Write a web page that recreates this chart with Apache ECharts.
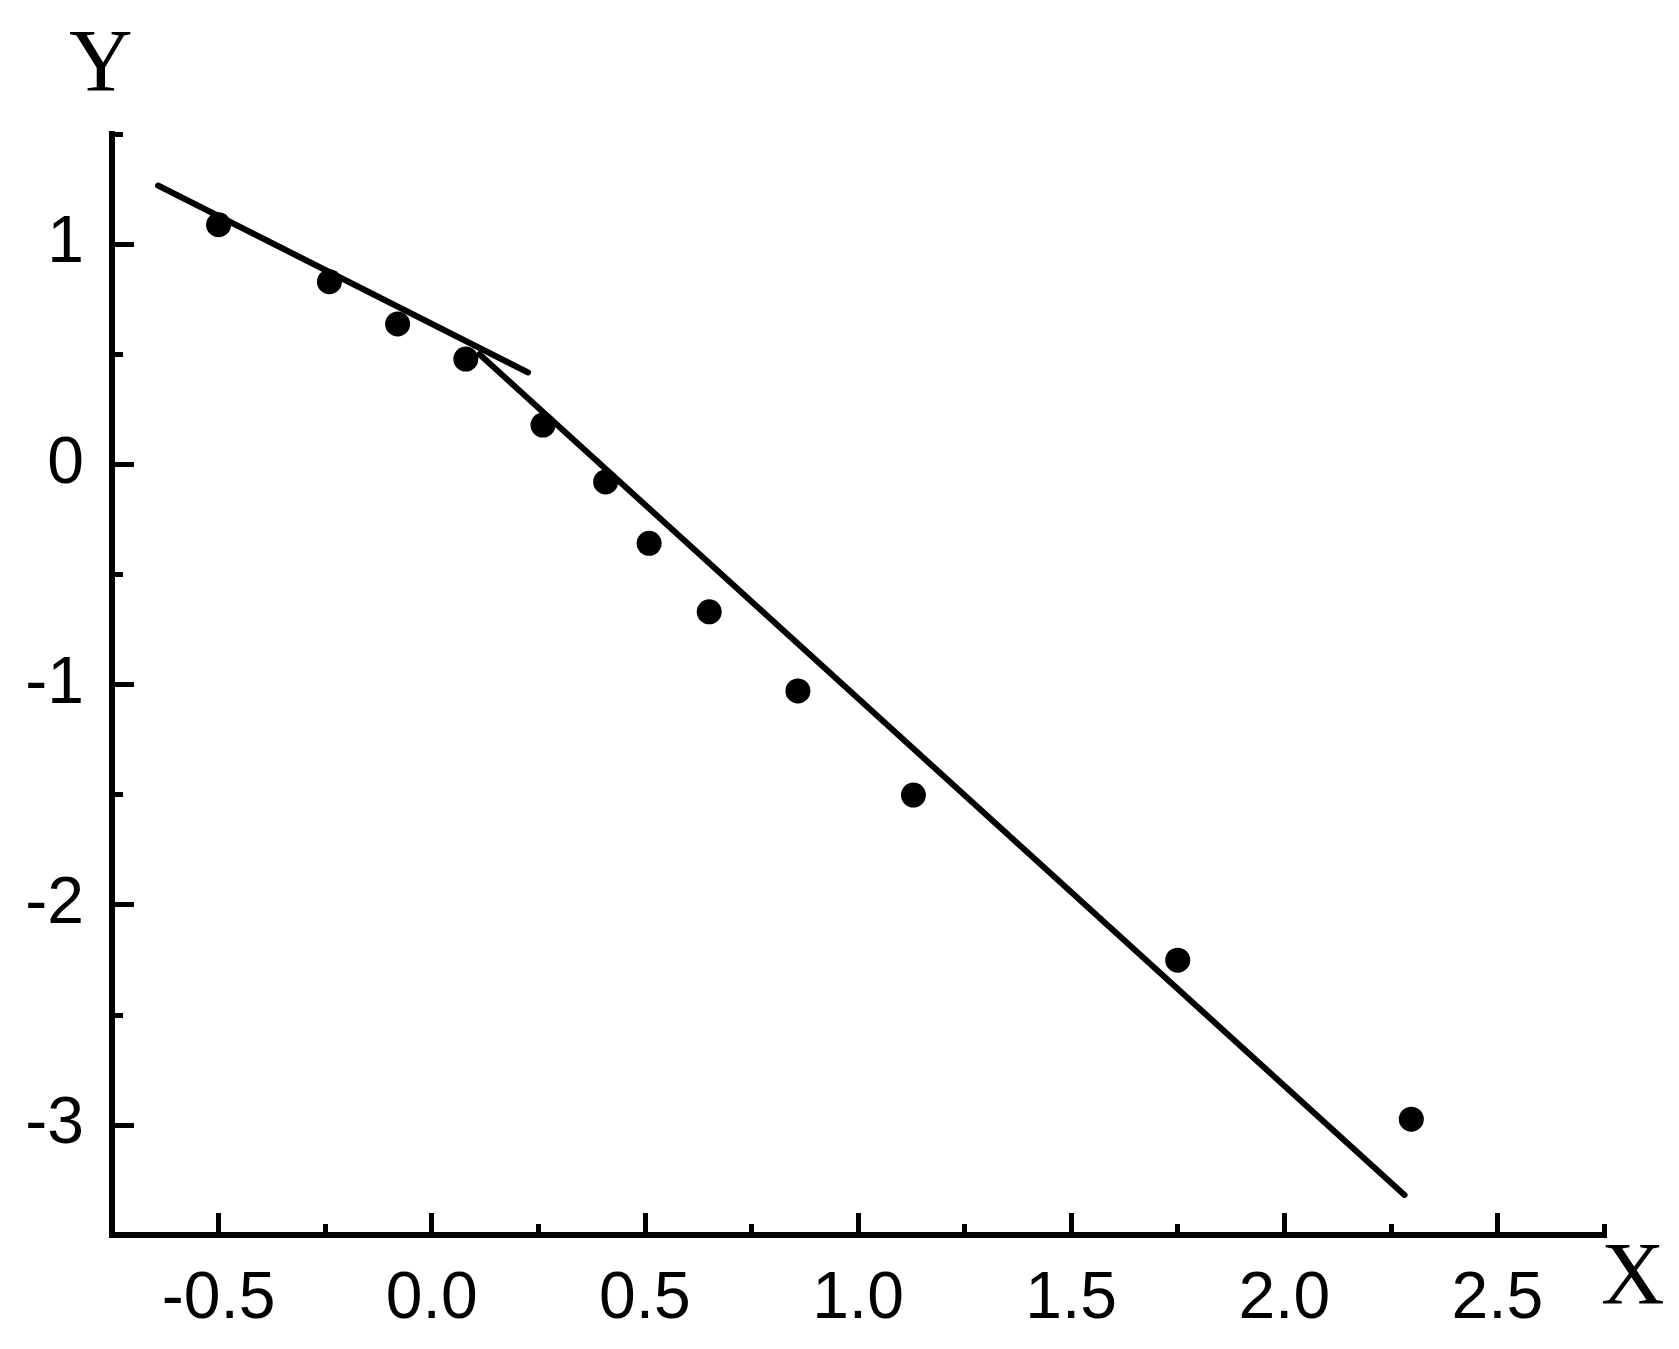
<!DOCTYPE html>
<html>
<head>
<meta charset="utf-8">
<script src="https://cdn.jsdelivr.net/npm/echarts@6/dist/echarts.min.js"></script>
<style>
html,body{margin:0;padding:0;background:#fff;}
#chart{width:1679px;height:1349px;}
</style>
</head>
<body>
<div id="chart"></div>
<script>
// Observed data points
var pointsX = [-0.50, -0.24, -0.08, 0.08, 0.261, 0.408, 0.510, 0.651, 0.859, 1.130, 1.750, 2.298];
var pointsY = [1.088, 0.829, 0.637, 0.478, 0.178, -0.080, -0.359, -0.670, -1.029, -1.502, -2.252, -2.974];

// Fitted line segments (endpoints)
var line1X = [-0.642, 0.226];
var line1Y = [1.266, 0.417];
var line2X = [0.112, 2.282];
var line2Y = [0.500, -3.318];

// Tick positions and labels
var xMajorTicks = [-0.5, 0.0, 0.5, 1.0, 1.5, 2.0, 2.5];
var xMinorTicks = [-0.25, 0.25, 0.75, 1.25, 1.75, 2.25, 2.75];
var yMajorTicks = [-3, -2, -1, 0, 1];
var yMinorTicks = [-3.5, -2.5, -1.5, -0.5, 0.5, 1.5];
var xTickLabels = ['-0.5', '0.0', '0.5', '1.0', '1.5', '2.0', '2.5'];
var yTickLabels = ['-3', '-2', '-1', '0', '1'];
var xAxisTitle = 'X';
var yAxisTitle = 'Y';

function zip(a, b) { return a.map(function (v, i) { return [v, b[i]]; }); }
function labelFor(ticks, labels) {
  return function (v) {
    for (var i = 0; i < ticks.length; i++) if (Math.abs(ticks[i] - v) < 1e-9) return labels[i];
    return '';
  };
}

var chart = echarts.init(document.getElementById('chart'), null, {renderer: 'canvas'});
var axisLineStyle = {color: '#000', width: 6, cap: 'square'};
var tickStyle = {color: '#000', width: 5};
var labelFont = {fontFamily: '"Liberation Sans", Arial, sans-serif', fontSize: 66, color: '#000'};

chart.setOption({
  animation: false,
  backgroundColor: '#fff',
  grid: {left: 112, right: 75, top: 134, bottom: 114, containLabel: false, outerBoundsMode: 'none'},
  xAxis: [
    {
      type: 'value', min: -0.75, max: 2.75, position: 'bottom', offset: 0,
      axisLine: {show: true, onZero: false, lineStyle: axisLineStyle},
      axisTick: {show: true, inside: true, length: 22, customValues: xMajorTicks, lineStyle: tickStyle},
      axisLabel: Object.assign({show: true, margin: 32, customValues: xMajorTicks, formatter: labelFor(xMajorTicks, xTickLabels)}, labelFont),
      splitLine: {show: false}
    },
    {
      type: 'value', min: -0.75, max: 2.75, position: 'bottom', offset: 0,
      axisLine: {show: false, onZero: false},
      axisTick: {show: true, inside: true, length: 11, customValues: xMinorTicks, lineStyle: tickStyle},
      axisLabel: {show: false},
      splitLine: {show: false}
    }
  ],
  yAxis: [
    {
      type: 'value', min: -3.5, max: 1.5, position: 'left', offset: 0,
      axisLine: {show: true, onZero: false, lineStyle: axisLineStyle},
      axisTick: {show: true, inside: true, length: 22, customValues: yMajorTicks, lineStyle: tickStyle},
      axisLabel: Object.assign({show: true, margin: 28, customValues: yMajorTicks, formatter: labelFor(yMajorTicks, yTickLabels)}, labelFont),
      splitLine: {show: false}
    },
    {
      type: 'value', min: -3.5, max: 1.5, position: 'left', offset: 0,
      axisLine: {show: false, onZero: false},
      axisTick: {show: true, inside: true, length: 11, customValues: yMinorTicks, lineStyle: tickStyle},
      axisLabel: {show: false},
      splitLine: {show: false}
    }
  ],
  graphic: [
    {type: 'text', left: 100 - 31, top: 57 - 34, style: {text: yAxisTitle, x: 0, y: 0, font: '88px "Liberation Serif", "Times New Roman", serif', fill: '#000'}, silent: true},
    {type: 'text', left: 1632 - 31, top: 1272 - 36, style: {text: xAxisTitle, x: 0, y: 0, font: '88px "Liberation Serif", "Times New Roman", serif', fill: '#000'}, silent: true}
  ],
  series: [
    {
      type: 'line', xAxisIndex: 0, yAxisIndex: 0, data: zip(line1X, line1Y),
      showSymbol: false, symbol: 'none', lineStyle: {color: '#000', width: 6, cap: 'round'}, z: 2
    },
    {
      type: 'line', xAxisIndex: 0, yAxisIndex: 0, data: zip(line2X, line2Y),
      showSymbol: false, symbol: 'none', lineStyle: {color: '#000', width: 6, cap: 'round'}, z: 2
    },
    {
      type: 'scatter', xAxisIndex: 0, yAxisIndex: 0, data: zip(pointsX, pointsY),
      symbol: 'circle', symbolSize: 25, itemStyle: {color: '#000', opacity: 1}, z: 3
    }
  ]
});
</script>
</body>
</html>
